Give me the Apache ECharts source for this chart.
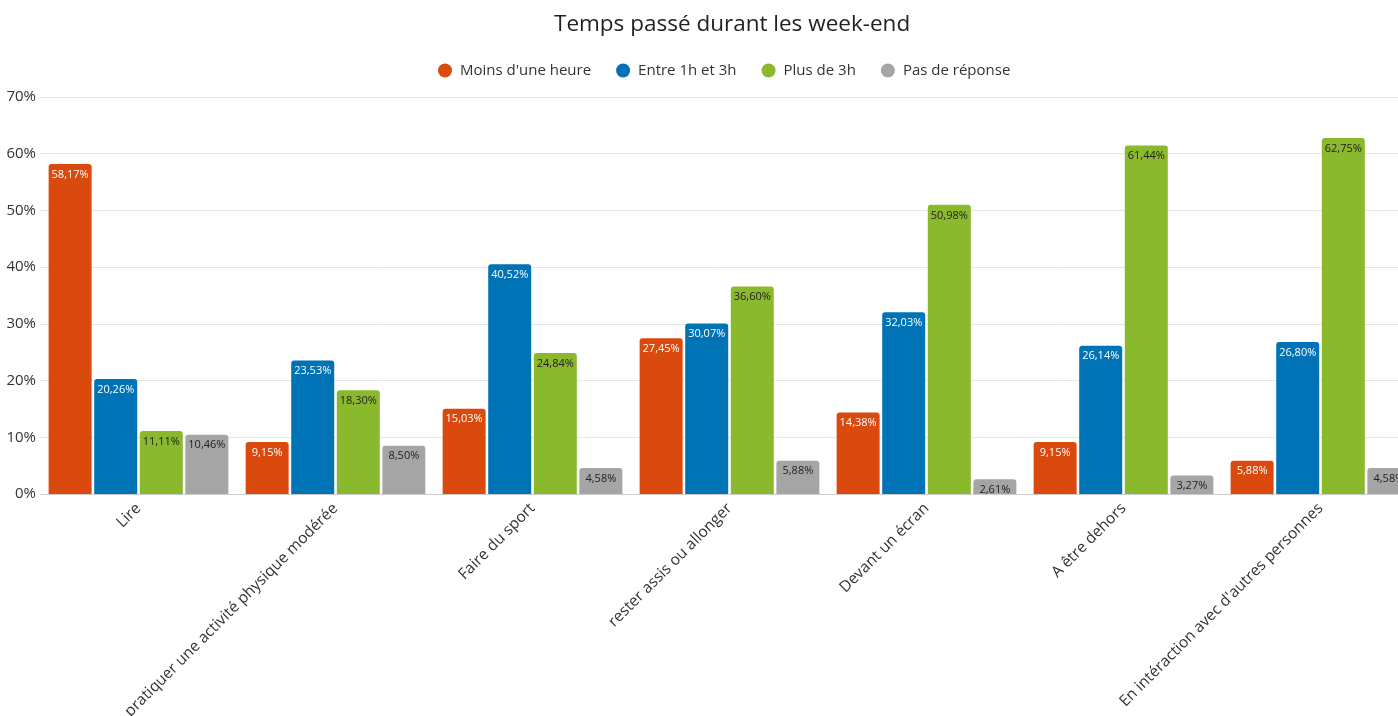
<!DOCTYPE html>
<html>
<head>
<meta charset="utf-8">
<script src="https://cdn.jsdelivr.net/npm/echarts@6/dist/echarts.min.js"></script>
<style>
  html, body { margin: 0; padding: 0; background: #fff; }
  #chart { width: 1398px; height: 716px; }
</style>
</head>
<body>
<div id="chart"></div>
<script>
// categories
const categories = [
  "Lire",
  "pratiquer une activité physique modérée",
  "Faire du sport",
  "rester assis ou allonger",
  "Devant un écran",
  "A être dehors",
  "En intéraction avec d'autres personnes"
];
// series values (%)
const moinsUneHeure = [58.17, 9.15, 15.03, 27.45, 14.38, 9.15, 5.88];
const entre1h3h = [20.26, 23.53, 40.52, 30.07, 32.03, 26.14, 26.80];
const plusDe3h = [11.11, 18.30, 24.84, 36.60, 50.98, 61.44, 62.75];
const pasDeReponse = [10.46, 8.50, 4.58, 5.88, 2.61, 3.27, 4.58];

const font = "'Open Sans', sans-serif";

function makeSeries(name, data, color, labelColor) {
  return {
    name: name,
    type: "bar",
    data: data,
    barWidth: 43,
    barGap: "6%",
    itemStyle: {
      color: color,
      borderRadius: [3, 3, 0, 0]
    },
    label: {
      show: true,
      position: "insideTop",
      distance: 5,
      color: labelColor,
      fontFamily: font,
      fontSize: 11,
      formatter: p => p.value.toFixed(2).replace(".", ",") + "%"
    }
  };
}

const chart = echarts.init(document.getElementById("chart"));
chart.setOption({
  animation: false,
  textStyle: { fontFamily: font },
  title: {
    text: "Temps passé durant les week-end",
    left: 549,
    top: 8,
    textStyle: { fontFamily: font, fontSize: 22.5, fontWeight: "normal", color: "#222" }
  },
  legend: {
    top: 58,
    left: 433,
    icon: "circle",
    itemWidth: 14,
    itemHeight: 14,
    itemGap: 25,
    textStyle: { fontFamily: font, fontSize: 15, color: "#333", padding: [0, 0, 0, 3] }
  },
  grid: {
    left: 40,
    width: 1379,
    top: 97,
    bottom: 222,
    outerBoundsMode: "none"
  },
  xAxis: {
    type: "category",
    data: categories,
    axisTick: { show: false },
    axisLine: { lineStyle: { color: "#ccc" } },
    axisLabel: {
      rotate: 45,
      interval: 0,
      margin: 12,
      fontSize: 15.5,
      color: "#333",
      fontFamily: font
    }
  },
  yAxis: {
    type: "value",
    min: 0,
    max: 70,
    interval: 10,
    axisLabel: {
      formatter: "{value}%",
      fontSize: 15,
      color: "#333",
      margin: 4,
      fontFamily: font
    },
    splitLine: { lineStyle: { color: "#e6e6e6" } }
  },
  series: [
    makeSeries("Moins d'une heure", moinsUneHeure, "#da4a0e", "#fff"),
    makeSeries("Entre 1h et 3h", entre1h3h, "#0073b7", "#fff"),
    makeSeries("Plus de 3h", plusDe3h, "#8ab92d", "#222"),
    makeSeries("Pas de réponse", pasDeReponse, "#a5a5a5", "#222")
  ]
});
</script>
</body>
</html>
